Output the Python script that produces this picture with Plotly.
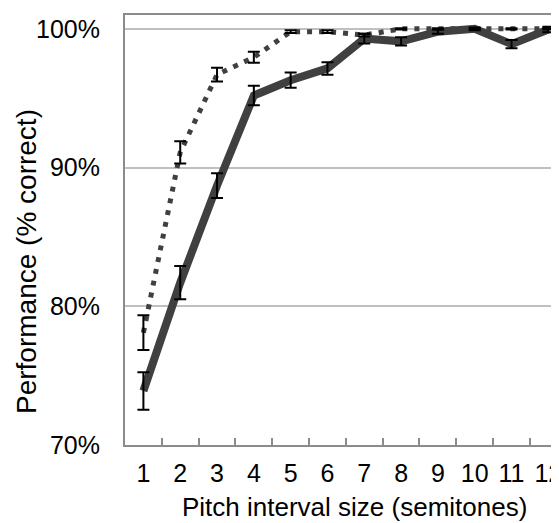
import plotly.graph_objects as go

categories = ["1", "2", "3", "4", "5", "6", "7", "8", "9", "10", "11", "12"]
solid_vals = [73.9, 81.7, 88.7, 95.2, 96.3, 97.15, 99.3, 99.1, 99.8, 100.0, 98.9, 99.95]
solid_err = [1.35, 1.2, 0.9, 0.7, 0.55, 0.45, 0.35, 0.3, 0.15, 0.1, 0.3, 0.2]
dotted_vals = [78.1, 91.1, 96.7, 97.95, 99.8, 99.8, 99.55, 100.0, 100.0, 100.0, 100.0, 100.0]
dotted_err = [1.25, 0.8, 0.5, 0.4, 0.1, 0.1, 0.1, 0.05, 0.05, 0.05, 0.05, 0.05]
y_ticks = [70, 80, 90, 100]
y_tick_labels = ["70%", "80%", "90%", "100%"]

LINE = "#404040"
FONT = "Arial, Liberation Sans, sans-serif"

# page body has an 8px margin: figure is drawn 8px right/down of the window origin
OFF = 8
W, H = 559 - OFF, 523 - OFF
L, T = 125 - OFF, 15 - OFF
B = H - (445 - OFF)
PW, PH = W - L, (445 - OFF) - T


def px_x(x):
    return (x - OFF - L) / PW


def px_y(y):
    return ((445 - OFF) - (y - OFF)) / PH


fig = go.Figure()
fig.add_trace(go.Scatter(x=categories, y=dotted_vals, mode="lines",
                         line=dict(color=LINE, width=5, dash="5px,7px"),
                         showlegend=False, hoverinfo="skip"))
fig.add_trace(go.Scatter(x=categories, y=solid_vals, mode="lines",
                         line=dict(color=LINE, width=8),
                         showlegend=False, hoverinfo="skip"))
for vals, errs in [(dotted_vals, dotted_err), (solid_vals, solid_err)]:
    fig.add_trace(go.Scatter(x=categories, y=vals, mode="markers",
                             marker=dict(size=1, opacity=0),
                             error_y=dict(type="data", array=errs, visible=True,
                                          color="#000000", thickness=2, width=6),
                             showlegend=False, hoverinfo="skip"))

fig.update_layout(
    width=W, height=H,
    margin=dict(l=L, r=0, t=T, b=B),
    paper_bgcolor="white", plot_bgcolor="white",
    font=dict(family=FONT, size=25, color="#000000"),
    xaxis=dict(type="category", range=[-0.5, 11.29], showgrid=False,
               showline=True, linecolor="#8c8c8c", linewidth=2, mirror=True,
               ticks="inside", tickson="boundaries", ticklen=7, tickwidth=2,
               tickcolor="#8c8c8c", ticklabelstandoff=5, tickangle=0,
               automargin=False, tickfont=dict(size=25)),
    yaxis=dict(range=[70, 101], tickvals=y_ticks, ticktext=y_tick_labels,
               showgrid=True, gridcolor="#c0c0c0", gridwidth=2, zeroline=False,
               showline=True, linecolor="#8c8c8c", linewidth=2, mirror=False,
               ticks="", ticklabelstandoff=18, automargin=False,
               tickfont=dict(size=25)),
    annotations=[
        dict(text="Pitch interval size (semitones)", xref="paper", yref="paper",
             x=px_x(354), y=px_y(507), xanchor="center",
             yanchor="middle", showarrow=False, font=dict(size=26)),
        dict(text="Performance (% correct)", xref="paper", yref="paper",
             x=px_x(26), y=px_y(262), xanchor="center",
             yanchor="middle", textangle=-90, showarrow=False, font=dict(size=28)),
    ],
)

fig.write_html("out.html")
